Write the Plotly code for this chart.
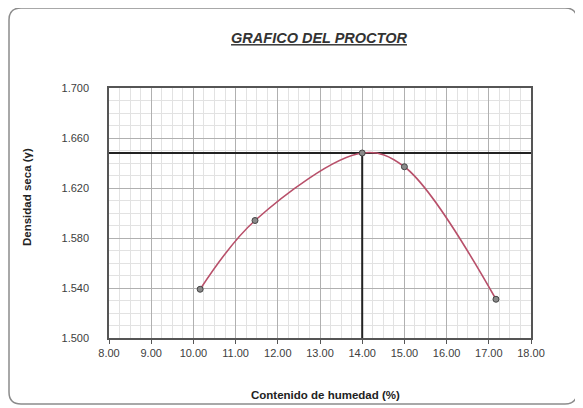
import plotly.graph_objects as go

humedad = [10.16, 11.46, 14.00, 15.00, 17.17]
densidad = [1.539, 1.594, 1.648, 1.637, 1.531]
opt_h = 14.00
opt_d = 1.648
x_ticks = [8, 9, 10, 11, 12, 13, 14, 15, 16, 17, 18]
y_ticks = [1.500, 1.540, 1.580, 1.620, 1.660, 1.700]

OFF = 8  # page body margin
W, H = 583 - OFF, 408 - OFF
L, T = 109 - OFF, 88 - OFF
pw, ph = 422, 250
R, B = W - L - pw, H - T - ph

def px(xp):
    return (xp - OFF - L) / pw

def py(yp):
    return (T + ph - (yp - OFF)) / ph

fig = go.Figure()

# optimum lines
fig.add_trace(go.Scatter(x=[8, 18], y=[opt_d, opt_d], mode="lines",
                         line=dict(color="#222222", width=2), hoverinfo="skip", showlegend=False))
fig.add_trace(go.Scatter(x=[opt_h, opt_h], y=[1.5, opt_d], mode="lines",
                         line=dict(color="#222222", width=2), hoverinfo="skip", showlegend=False))

fig.add_trace(go.Scatter(x=humedad, y=densidad, mode="lines+markers",
                         line=dict(color="#b8506a", width=1.6, shape="spline", smoothing=1.0),
                         marker=dict(symbol="circle", size=6, color="#8a8a8a",
                                     line=dict(color="#444444", width=1)),
                         showlegend=False))

# rounded outer border
x0, x1 = px(9), px(577)
y0, y1 = py(404), py(8)
rx, ry = 12 / pw, 12 / ph
path = (f"M {x0+rx},{y1} L {x1-rx},{y1} Q {x1},{y1} {x1},{y1-ry} "
        f"L {x1},{y0+ry} Q {x1},{y0} {x1-rx},{y0} L {x0+rx},{y0} "
        f"Q {x0},{y0} {x0},{y0+ry} L {x0},{y1-ry} Q {x0},{y1} {x0+rx},{y1} Z")
fig.add_shape(type="path", path=path, xref="paper", yref="paper",
              line=dict(color="#8c8c8c", width=1.5), layer="below")

axis_font = dict(family="Liberation Sans, Arial", size=11, color="#404040")
title_font = dict(family="Liberation Sans, Arial", size=11.5, color="#222222")

fig.update_xaxes(range=[8, 18], tickvals=x_ticks,
                 ticktext=[f"{v:.2f}" for v in x_ticks],
                 showgrid=True, gridcolor="#b0b0b0", gridwidth=1,
                 minor=dict(dtick=0.25, showgrid=True, gridcolor="#e2e2e2", gridwidth=1),
                 showline=True, linecolor="#555555", linewidth=1.5, mirror=True,
                 ticks="outside", ticklen=4, tickcolor="#555555",
                 tickfont=axis_font, zeroline=False, automargin=False)
fig.update_yaxes(range=[1.5, 1.7], tickvals=y_ticks,
                 ticktext=[f"{v:.3f}" for v in y_ticks],
                 showgrid=True, gridcolor="#b0b0b0", gridwidth=1,
                 minor=dict(dtick=0.01, showgrid=True, gridcolor="#e2e2e2", gridwidth=1),
                 showline=True, linecolor="#555555", linewidth=1.5, mirror=True,
                 ticks="", ticklabelstandoff=16, tickfont=axis_font,
                 zeroline=False, automargin=False)

fig.add_annotation(text="<b>Contenido de humedad (%)</b>", xref="paper", yref="paper",
                   x=px(325), y=py(395), xanchor="center", yanchor="middle",
                   showarrow=False, font=title_font)
fig.add_annotation(text="<b>Densidad seca (γ)</b>", xref="paper", yref="paper",
                   x=px(27), y=py(197), xanchor="center", yanchor="middle",
                   textangle=-90, showarrow=False, font=title_font)

fig.update_layout(
    width=W, height=H,
    margin=dict(l=L, r=R, t=T, b=B),
    paper_bgcolor="white", plot_bgcolor="white",
    title=dict(text="<b><i><u>GRAFICO DEL PROCTOR</u></i></b>",
               x=(319 - OFF) / W, xanchor="center", y=1 - (38 - OFF) / H, yanchor="middle",
               font=dict(family="Liberation Sans, Arial", size=14.5, color="#333333")),
)

fig.write_html("out.html")
